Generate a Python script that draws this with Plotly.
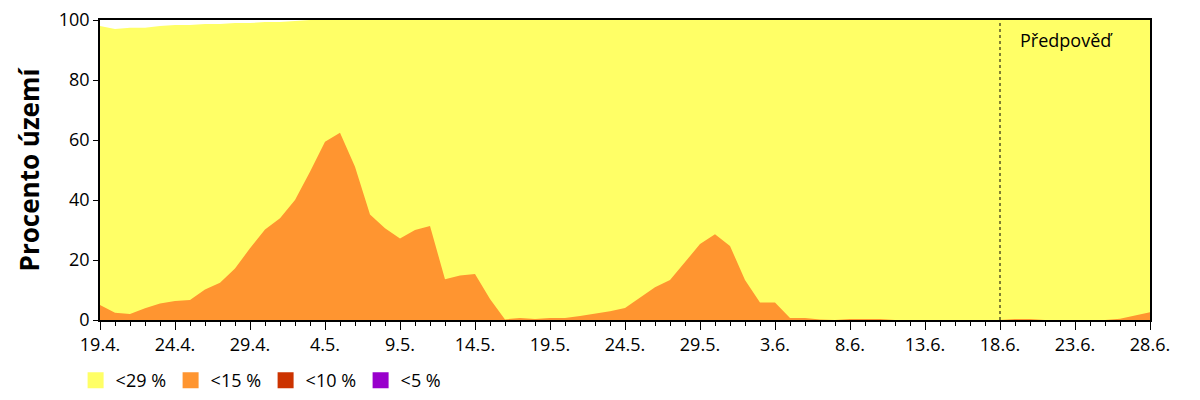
import pandas as pd
import plotly.graph_objects as go

# Daily dates 19.4. - 28.6.
dates = pd.date_range("2023-04-19", "2023-06-28", freq="D")

# Percent of territory with soil moisture < 29 % (cumulative, includes lower classes)
pct_lt29 = [98, 97, 97.4, 97.4, 98, 98.3, 98.3, 98.7, 98.7, 99, 99, 99.3, 99.3, 99.7] + [100] * 57

# Percent of territory with < 15 %
pct_lt15 = [5, 2.4, 2, 3.9, 5.5, 6.3, 6.7, 10.2, 12.4, 17.2,
            23.9, 30.2, 33.9, 40, 49.4, 59.4, 62.4, 51.1, 35.2, 30.6,
            27.2, 30, 31.3, 13.6, 14.8, 15.3, 7, 0.2, 0.7, 0.3,
            0.7, 0.7, 1.3, 2, 2.9, 4, 7.6, 10.9, 13.3, 19.4,
            25.3, 28.6, 24.7, 13.3, 5.8, 5.8, 0.7, 0.7, 0.2, 0,
            0.3, 0.3, 0.3, 0, 0, 0, 0, 0, 0, 0,
            0, 0.3, 0.3, 0, 0, 0, 0, 0, 0.4, 1.5, 2.6]

legend_names = ["<29 %", "<15 %", "<10 %", "<5 %"]
legend_colors = ["#FFFF66", "#FF9530", "#CC3300", "#9900CC"]

tick_dates = ["2023-04-19", "2023-04-24", "2023-04-29", "2023-05-04", "2023-05-09",
              "2023-05-14", "2023-05-19", "2023-05-24", "2023-05-29", "2023-06-03",
              "2023-06-08", "2023-06-13", "2023-06-18", "2023-06-23", "2023-06-28"]
tick_labels = ["19.4.", "24.4.", "29.4.", "4.5.", "9.5.", "14.5.", "19.5.", "24.5.",
               "29.5.", "3.6.", "8.6.", "13.6.", "18.6.", "23.6.", "28.6."]
forecast_start = "2023-06-18"
forecast_label = "Předpověď"

FONT = "Open Sans"

fig = go.Figure()
fig.add_trace(go.Scatter(x=dates, y=pct_lt29, mode="lines", line=dict(width=0),
                         fill="tozeroy", fillcolor=legend_colors[0], showlegend=False,
                         hoverinfo="skip"))
fig.add_trace(go.Scatter(x=dates, y=pct_lt15, mode="lines", line=dict(width=0),
                         fill="tozeroy", fillcolor=legend_colors[1], showlegend=False,
                         hoverinfo="skip"))
for name, col in zip(legend_names, legend_colors):
    fig.add_trace(go.Scatter(x=[None], y=[None], mode="markers", name=name,
                             marker=dict(symbol="square", size=16, color=col)))

fig.add_shape(type="line", x0=forecast_start, x1=forecast_start, y0=0, y1=100,
              xref="x", yref="y", line=dict(color="black", width=1, dash="dot"))
fig.add_annotation(x=forecast_start, y=98, xref="x", yref="y", text=forecast_label,
                   showarrow=False, xanchor="left", yanchor="top", xshift=18,
                   font=dict(family=FONT, size=18, color="black"))

fig.update_layout(
    width=1200, height=400,
    margin=dict(l=100, r=50, t=20, b=80, autoexpand=False),
    paper_bgcolor="white", plot_bgcolor="white",
    font=dict(family=FONT, size=16, color="black"),
    legend=dict(orientation="h", x=0.063, xref="container", xanchor="left",
                y=0.095, yref="container", yanchor="top",
                entrywidth=50, entrywidthmode="pixels", font=dict(size=18),
                itemclick=False, tracegroupgap=0),
    showlegend=True,
)
fig.update_xaxes(range=[dates[0], dates[-1]], showgrid=False, zeroline=False,
                 showline=True, linecolor="black", linewidth=1.5, mirror=True,
                 ticks="outside", ticklen=8, tickcolor="black",
                 tickvals=tick_dates, ticktext=tick_labels,
                 minor=dict(dtick=86400000, ticks="outside", ticklen=4, tickcolor="black"),
                 tickfont=dict(size=18))
fig.update_yaxes(range=[0, 100], showgrid=False, zeroline=False,
                 showline=True, linecolor="black", linewidth=1.5, mirror=True,
                 ticks="outside", ticklen=5, tickcolor="black", dtick=20,
                 tickfont=dict(size=18),
                 title=dict(text="<b>Procento území</b>", font=dict(size=26), standoff=12))

fig.write_html("out.html")
